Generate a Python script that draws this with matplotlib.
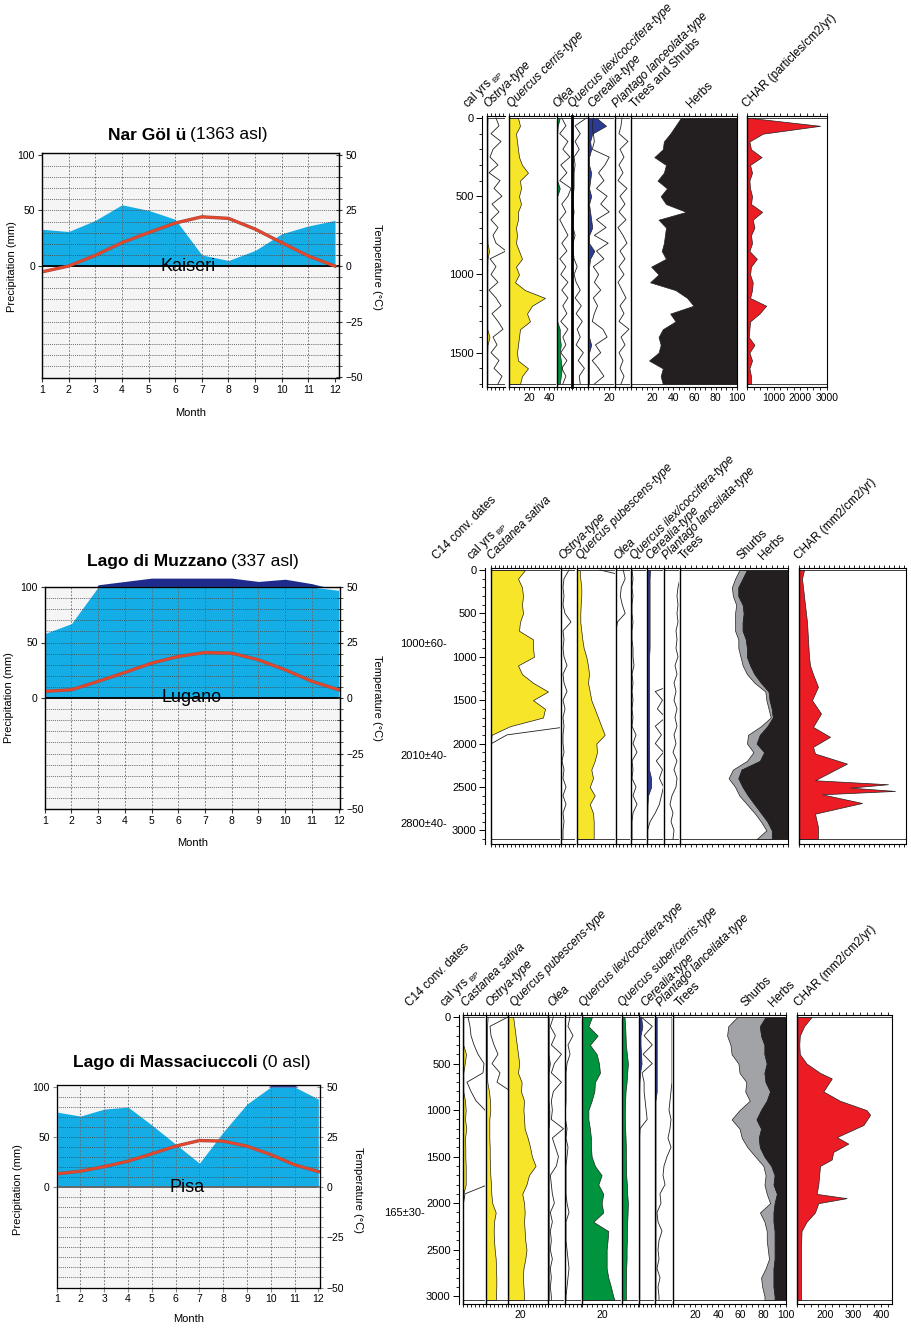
import numpy as np
import matplotlib.pyplot as plt
import matplotlib.patheffects as pe
from matplotlib.ticker import MultipleLocator, FixedLocator

plt.rcParams['font.family'] = ['Liberation Sans', 'DejaVu Sans']

# ---------------- climate diagrams ----------------
months = [1, 2, 3, 4, 5, 6, 7, 8, 9, 10, 11, 12]
kaiseri_prec = [33, 31, 41, 55, 50, 42, 10, 5, 14, 29, 36, 41]
kaiseri_temp = [-2.6, 0, 4.8, 10.5, 15, 19.3, 22.1, 21.4, 16.6, 10.5, 4.5, 0]
lugano_prec = [58, 67, 120, 150, 180, 180, 180, 180, 150, 170, 130, 97]
lugano_temp = [3, 3.7, 7.5, 11.5, 15.7, 18.7, 20.5, 20.2, 17.2, 12.7, 7.5, 3.7]
pisa_prec = [75, 71, 78, 80, 62, 43, 24, 55, 83, 120, 120, 88]
pisa_temp = [6.7, 8, 10.3, 13, 16.7, 20.5, 23.3, 23, 20.5, 16.3, 11.2, 7.8]

# ---------------- Nar Golu pollen (cal yrs BP) ----------------
nar_depth = [0, 50, 100, 150, 200, 250, 300, 350, 400, 450, 500, 550, 600, 650, 700, 750, 800, 850,
             900, 950, 1000, 1050, 1100, 1150, 1200, 1250, 1300, 1350, 1400, 1450, 1500, 1550, 1600, 1650, 1700]
nar_ostrya = [0.5, 0.3, 0.3, 0.3, 0.3, 0.3, 0.3, 0.3, 0.3, 0.3, 0.3, 0.3, 0.3, 0.3, 0.3, 0.3, 0.5, 2,
              0.5, 0.3, 0.3, 0.3, 0.3, 0.3, 0.3, 0.3, 0.3, 0.3, 2.5, 0.5, 0.3, 0.3, 0.3, 0.3, 0.3]
nar_ostrya_x = [9, 12, 4, 14, 6, 3, 11, 2, 13, 7, 15, 5, 12, 4, 11, 6, 9, 19, 3, 9, 4, 11, 2, 9, 14,
                5, 11, 16, 6, 10, 4, 12, 7, 15, 11]
nar_cerris = [9, 11, 7, 8, 9, 10, 13, 19, 11, 12, 10, 12, 9, 9, 7, 8, 7, 10, 13, 7, 10, 6, 16, 36, 23,
              18, 21, 11, 10, 9, 8, 9, 19, 13, 11]
nar_olea = [3, 1, 0.5, 0.5, 0.5, 0.5, 0.5, 0.5, 0.5, 3, 0.5, 0.5, 0.5, 0.5, 0.5, 0.5, 0.5, 0.5, 0.5,
            0.5, 0.5, 0.5, 0.5, 0.5, 0.5, 0.5, 0.5, 3, 3, 4, 3, 4, 5, 4, 3]
nar_olea_x = [5, 9, 3, 11, 6, 13, 4, 10, 3, 14, 11, 5, 9, 3, 7, 11, 5, 10, 3, 9, 4, 11, 5, 11, 6,
              10, 4, 11, 6, 9, 4, 10, 5, 9, 6]
nar_ilex_x = [14, 3, 8, 3, 7, 2, 3, 2, 2, 2, 1, 1, 2, 1, 1, 3, 1, 1, 2, 5, 2, 4, 8, 3, 9,
              4, 10, 5, 8, 4, 11, 6, 12, 7, 8]
nar_cerealia = [8, 17, 4, 2, 3, 1, 1, 3, 2, 1, 3, 1, 2, 3, 4, 1, 1, 6, 2, 1, 1, 1, 1, 1, 1,
                1, 1, 1, 1, 3, 1, 1, 1, 1, 1]
nar_cerealia_x = [5, 4, 5, 6, 4, 20, 16, 10, 15, 8, 18, 12, 20, 8, 17, 6, 19, 8, 15, 5, 10, 6, 12, 5, 9,
                  6, 4, 14, 18, 7, 12, 4, 10, 15, 6]
nar_plantago_x = [7, 6, 4, 13, 5, 9, 4, 8, 3, 12, 5, 10, 4, 11, 3, 8, 12, 5, 10, 4, 9, 3, 7, 11, 5,
                  9, 4, 14, 6, 10, 4, 8, 5, 9, 6]
nar_trees = [47, 42, 37, 31, 30, 22, 33, 31, 25, 34, 28, 33, 52, 26, 33, 32, 31, 29, 33, 19, 26, 18, 42,
             53, 59, 37, 42, 30, 26, 28, 26, 17, 30, 28, 30]
nar_char = [150, 2750, 600, 90, 150, 550, 115, 190, 90, 115, 190, 150, 570, 215, 280, 150, 190, 90, 370,
            150, 115, 215, 190, 115, 720, 470, 115, 90, 65, 280, 90, 190, 90, 150, 150]

# ---------------- Lago di Muzzano pollen ----------------
muz_depth = [0, 100, 200, 300, 400, 500, 600, 700, 800, 900, 1000, 1100, 1200, 1300, 1400, 1500, 1600,
             1700, 1800, 1900, 2000, 2100, 2200, 2300, 2400, 2500, 2600, 2700, 2800, 2900, 3000, 3100]
muz_castanea = [34, 27, 31, 32, 31, 32, 29, 28, 42, 42, 43, 27, 31, 42, 57, 42, 54, 52, 19, 0.5,
                0, 0, 0, 0, 0, 0, 0, 0, 0, 0, 0, 0]
muz_castanea_x = [80, 80, 80, 80, 80, 80, 80, 80, 80, 80, 80, 80, 80, 80, 80, 80, 80, 80, 80, 16,
                  0.5, 0.3, 0.3, 0.3, 0.3, 0.3, 0.3, 0.3, 0.3, 0.3, 0.3, 0.3]
muz_ostrya_x = [8, 3, 2, 3, 2, 4, 10, 2, 3, 2, 3, 6, 2, 3, 6, 2, 4, 2, 3, 2, 2, 3, 1, 3, 2, 5, 2, 5,
                2, 3, 2, 2]
muz_pubescens = [2.7, 3.3, 4.3, 4.3, 3.7, 3.3, 3.3, 4.3, 5.3, 6.7, 9.3, 11, 12, 11, 12.7, 14.3, 17.7,
                 21, 24.3, 27.7, 19.3, 20, 17.7, 14.3, 16, 12.7, 17.7, 12.7, 16, 16.7, 16.7, 16.7]
muz_pubescens_x = [23, 60, 60, 60, 60, 60, 60, 60, 60, 60, 60, 60, 60, 60, 60, 60, 60, 60, 60, 60,
                   60, 60, 60, 60, 60, 60, 60, 60, 60, 60, 60, 60]
muz_olea_x = [8, 10, 6, 5, 7, 10, 2, 0.5, 0.5, 0.5, 0.5, 0.5, 0.5, 0.5, 0.5, 0.5, 0.5, 0.5, 0.5, 0.5,
              0.5, 0.5, 0.5, 0.5, 0.5, 0.5, 0.5, 0.5, 0.5, 0.5, 0.5, 0.5]
muz_ilex_x = [1, 2, 1, 2, 1, 1, 2, 1, 1, 2, 2, 3, 1, 2, 1, 2, 1, 2, 1, 5, 2, 6, 1, 2, 1, 5, 2, 6,
              2, 1, 1, 1]
muz_cerealia = [3, 2.5, 2.5, 2.5, 2.5, 2.5, 2.5, 2.5, 2.5, 2.5, 2, 2, 2, 2, 2, 2, 2, 2, 2, 2, 2, 2,
                2, 2, 4, 4, 1, 0.5, 0.3, 0.3, 0.3, 0.3]
muz_cerealia_x = [30, 30, 30, 30, 30, 30, 30, 30, 30, 30, 30, 30, 30, 30, 8, 15, 10, 18, 8, 14, 8, 16,
                  9, 15, 12, 16, 14, 12, 8, 3, 0.5, 0.5]
muz_plantago_x = [16, 16, 14, 13, 14, 13, 14, 12, 13, 12, 14, 11, 13, 10, 12, 10, 13, 11, 13, 10, 12,
                  9, 13, 10, 13, 12, 8, 6, 9, 7, 10, 9]
muz_trees = [55, 51, 48, 49, 52, 51, 51, 51, 54, 54, 56, 58, 62, 69, 79, 80, 82, 84, 75, 63, 62, 68,
             62, 49, 45, 51, 55, 62, 69, 75, 80, 71]
muz_shrubs = [62, 58, 54, 54, 58, 59, 58, 58, 61, 62, 62, 65, 69, 75, 82, 83, 85, 86, 81, 74, 71, 78,
              74, 57, 54, 58, 63, 69, 75, 81, 85, 85]
muz_char_depth = [0, 100, 200, 400, 600, 800, 1000, 1100, 1200, 1346, 1500, 1654, 1808, 1923, 2038,
                  2115, 2231, 2423, 2469, 2508, 2546, 2585, 2685, 2808, 2962, 3100]
muz_char = [5, 3, 4, 6, 8, 9, 10, 11, 14, 19, 13, 22, 14, 31, 14, 16, 48, 16, 89, 51, 96, 23, 63, 16,
            19, 19]
muz_dates = ['1000±60-', '2010±40-', '2800±40-']

# ---------------- Lago di Massaciuccoli pollen ----------------
mas_depth = [0, 100, 200, 300, 400, 500, 600, 700, 800, 900, 1000, 1100, 1200, 1300, 1400, 1500, 1600,
             1700, 1800, 1900, 2000, 2100, 2200, 2300, 2400, 2500, 2600, 2700, 2800, 2900, 3000, 3040]
mas_castanea = [0.3, 0.3, 0.3, 0.3, 3, 1.7, 0.3, 0.3, 0.3, 2, 2.7, 2, 3.3, 2, 2.3, 2.3, 2.7, 2.7, 2.7,
                0.3, 0, 0, 0, 0, 0, 0, 0, 0, 0, 0, 0, 0]
mas_castanea_x = [5, 7, 8, 11, 15, 21, 20, 4, 8, 13, 22, 25, 25, 25, 25, 25, 25, 25, 25, 2, 0.5,
                  0.3, 0.3, 0.3, 0.3, 0.3, 0.3, 0.3, 0.3, 0.3, 0.3, 0.3]
mas_ostrya = [1.7, 1, 1, 1, 1, 1, 1, 1.3, 3, 4, 4.3, 3.3, 3.3, 3.3, 3.7, 3.7, 4, 4.3, 5, 5.3, 6.3,
              9.7, 8, 7.7, 8, 8.7, 9.7, 10, 10.3, 10.3, 10, 10]
mas_ostrya_x = [22, 4, 5, 8, 12, 6, 14, 11, 25, 25, 25, 25, 25, 25, 25, 25, 25, 25, 25, 25, 25, 25,
                25, 25, 25, 25, 25, 25, 25, 25, 25, 25]
mas_pubescens = [8, 10, 12, 14, 16, 18, 16, 22, 21, 26, 25, 26, 27, 32, 36, 39, 45, 34, 30, 23, 26,
                 27, 26, 27, 28, 30, 28, 25, 24, 25, 26, 26]
mas_olea = [0.3, 0.3, 0.3, 0.3, 0.3, 1.5, 0.3, 0.3, 0.3, 0.3, 1, 1, 0.3, 0.3, 0.3, 0.3, 0.3, 0.3,
            0.3, 0.3, 0.3, 0.3, 0.3, 0.3, 0.3, 0.3, 0.3, 0.3, 0.3, 0.3, 0.3, 0.3]
mas_olea_x = [5, 2, 7, 3, 13, 6, 3, 13, 5, 3, 4, 3, 15, 4, 7, 10, 8, 2, 3, 4, 6, 2, 4, 2, 3, 2, 4,
              2, 3, 2, 3, 3]
mas_other_x = [5, 3, 8, 3, 5, 2, 1, 1, 1, 1, 0.5, 0.5, 2, 1, 3, 2, 1, 1, 1, 1, 2, 4, 1, 1, 1, 2, 3,
               4, 3, 2, 1, 1]
mas_ilex = [10, 6.5, 15.5, 8, 14.6, 16.8, 17.8, 12.9, 12.3, 9.7, 6.5, 6.5, 8, 9, 9, 9.7, 12.9, 19.4,
            16.2, 21, 19.4, 21, 11.3, 25.9, 25.2, 24.3, 24.3, 24.3, 25.9, 28.5, 30.7, 32]
mas_suber = [2.7, 3.3, 3.7, 4, 5, 6, 5.3, 4.7, 3.7, 3.3, 3, 3, 3.3, 3.7, 4, 4, 4.3, 4.3, 5, 5.3, 6,
             5.7, 5.3, 5, 5, 4.7, 4.7, 4.3, 4.3, 4, 4, 4]
mas_cerealia = [2, 3.3, 1.5, 1.5, 2, 2.5, 1, 0.5, 0.3, 0.3, 0.3, 0.3, 0.3, 0.3, 0.3, 0.3, 0.3, 0.3,
                0.3, 0.3, 0.3, 0.3, 0.3, 0.3, 0.3, 0.3, 0.3, 0.3, 0.3, 0.3, 0.3, 0.3]
mas_cerealia_x = [2, 13, 5, 13, 4, 13, 3, 5, 5, 6, 7, 8, 1, 0.5, 0.3, 0.3, 0.3, 0.3, 0.3, 0.3, 0.3,
                  0.3, 0.3, 0.3, 0.3, 0.3, 0.3, 0.3, 0.3, 0.3, 0.3, 0.3]
mas_plantago = [1.7, 1.7, 1.7, 1.7, 1.7, 1.7, 1.7, 1.7, 1.7, 0.5, 0.5, 0.5, 0.5, 0.5, 0.5, 0.5, 0.5,
                0.5, 0.5, 0.5, 0.5, 0.5, 0.5, 0.5, 0.5, 0.5, 0.5, 0.5, 0.5, 0.5, 0.5, 0.5]
mas_plantago_x = [17, 17, 17, 17, 17, 17, 17, 17, 16, 15, 14, 16, 15, 13, 16, 12, 9, 8, 10, 5, 6, 2,
                  3, 7, 4, 3, 4, 2, 5, 3, 4, 4]
mas_trees = [57, 49, 48, 51, 52, 58, 59, 65, 64, 68, 59, 52, 59, 61, 66, 73, 80, 82, 81, 83, 86, 77,
             81, 83, 83, 84, 85, 82, 78, 79, 81, 81]
mas_shrubs = [82, 77, 78, 81, 81, 83, 81, 82, 86, 83, 78, 74, 78, 76, 77, 81, 87, 90, 89, 92, 90, 89,
              89, 90, 90, 90, 90, 89, 89, 89, 90, 90]
mas_char_depth = [0, 100, 200, 300, 400, 500, 600, 660, 800, 900, 1000, 1050, 1160, 1290, 1360, 1450,
                  1530, 1600, 1800, 1900, 1946, 2000, 2100, 2200, 2300, 2500, 3040]
mas_char = [151, 124, 109, 107, 109, 133, 181, 223, 193, 252, 347, 360, 336, 241, 282, 228, 223, 181,
            175, 169, 276, 175, 163, 133, 115, 113, 113]
mas_dates = ['165±30-']

YELLOW, GREEN, BLUE = '#f7e52a', '#00943f', '#2c3b94'
BLACK, GREY, RED = '#231f20', '#a2a3a6', '#ec1c24'

W, H = 911, 1328
fig = plt.figure(figsize=(W / 100, H / 100), dpi=100)


def box(x0, y0, x1, y1):
    return fig.add_axes([x0 / W, 1 - y1 / H, (x1 - x0) / W, (y1 - y0) / H])


def ftext(x, y, s, **kw):
    return fig.text(x / W, 1 - y / H, s, **kw)


def climate(pos, xmax, ylim, prec, temp, bold, plain, split, title_y,
            station, month_y, plab_x, tlab_x, lab_y, frame='#333'):
    x0, y0, x1, y1 = pos
    ax = box(x0, y0, x1, y1)
    ax.set_facecolor('#f5f5f5')
    ax.set_xlim(1, xmax)
    ax.set_ylim(ylim)
    p = np.array(prec, float)
    shown = np.where(p > 100, 100 + (p - 100) / 10, p)
    ax.fill_between(months, 0, np.minimum(shown, 100), color='#14ade6', lw=0, zorder=1)
    ax.fill_between(months, 100, shown, where=shown >= 100, interpolate=True,
                    color='#1e2b8c', lw=0, zorder=1, clip_on=False)
    for g in range(-90, 100, 10):
        ax.axhline(g, color='#444', lw=0.6, ls=(0, (1, 1.3)), zorder=2)
    for m in months[1:-1]:
        ax.axvline(m, color='#666', lw=0.6, ls=(0, (2, 2)), zorder=2)
    ax.axhline(0, color='k' if frame == '#333' else '#666', lw=1.3, zorder=3)
    ax.plot(months, np.array(temp) * 2, color='#e8462b', lw=1.6, zorder=4,
            path_effects=[pe.Stroke(linewidth=2.4, foreground='#9a5048'), pe.Normal()])
    ax.text(6.5, 0, station, ha='center', va='center', fontsize=13, zorder=5)
    ax.set_xticks(months)
    ax.set_yticks([0, 50, 100])
    ax.tick_params(labelsize=7.5, length=3, pad=2, color=frame)
    for s in ax.spines.values():
        s.set_color(frame)
        s.set_linewidth(1.0)
    tx = ax.twinx()
    tx.set_ylim(ylim[0] / 2, ylim[1] / 2)
    tx.set_yticks([-50, -25, 0, 25, 50])
    tx.yaxis.set_minor_locator(MultipleLocator(5))
    tx.tick_params(which='both', direction='inout', labelsize=7.5, pad=2, color=frame)
    tx.tick_params(which='major', length=5)
    tx.tick_params(which='minor', length=4)
    tx.set_yticklabels(['−50', '−25', '0', '25', '50'])
    ftext(split - 2, title_y, bold, ha='right', va='center', fontsize=12.5, weight='bold')
    ftext(split + 2, title_y, plain, ha='left', va='center', fontsize=12.5)
    ftext((x0 + x1) / 2, month_y, 'Month', ha='center', va='center', fontsize=8)
    ftext(plab_x, lab_y, 'Precipitation (mm)', rotation=90, ha='center', va='center', fontsize=8)
    ftext(tlab_x, lab_y, 'Temperature (°C)', rotation=270, ha='center', va='center', fontsize=8)


def rowgeom(top, bot, d0px, dnpx, dn):
    s = (dnpx - d0px) / dn
    return dict(top=top, bot=bot, dn=dn, ylim=(dn + (bot - dnpx) / s, -(d0px - top) / s))


def depth_axis(row, x, step):
    ax = box(x, row['top'], x + 1, row['bot'])
    ax.set_ylim(row['ylim'])
    for s in ('top', 'bottom', 'right'):
        ax.spines[s].set_visible(False)
    ax.spines['left'].set_linewidth(0.8)
    ax.set_xticks([])
    ax.yaxis.set_major_locator(FixedLocator(list(range(0, row['dn'] + 1, step))))
    ax.yaxis.set_minor_locator(MultipleLocator(100))
    ax.tick_params(axis='y', which='major', length=4, width=0.7, labelsize=8, pad=2)
    ax.tick_params(axis='y', which='minor', length=2.5, width=0.6)
    ax.patch.set_alpha(0)


def panel(row, x0, x1, xlim, minor, labels=(), right=False, lw_left=1.0):
    ax = box(x0, row['top'], x1, row['bot'])
    ax.set_xlim(xlim if isinstance(xlim, tuple) else (0, xlim))
    ax.set_ylim(row['ylim'])
    ax.patch.set_alpha(0)
    ax.spines['right'].set_visible(right)
    ax.spines['left'].set_linewidth(lw_left)
    for s in ('top', 'bottom', 'right'):
        ax.spines[s].set_linewidth(0.8)
    ax.set_yticks([])
    ax.xaxis.set_major_locator(FixedLocator(list(labels)))
    ax.xaxis.set_minor_locator(MultipleLocator(minor))
    ax.tick_params(axis='x', which='both', top=True, bottom=True, direction='out',
                   length=2.5, width=0.6, labelsize=7.5, pad=1.5)
    ax.axhline(0, color=BLACK, lw=0.6)
    ax.axhline(row['dn'], color=BLACK, lw=0.6)
    return ax


def fill(ax, depth, vals, color, base=0):
    ax.fill_betweenx(depth, base, vals, facecolor=color, edgecolor=BLACK, lw=0.5)


def line(ax, depth, vals):
    ax.plot(vals, depth, color=BLACK, lw=0.6)


def headers(y, items, size=8.5):
    for x, s, it in items:
        ftext(x, y, s, rotation=45, rotation_mode='anchor', ha='left', va='baseline',
              fontsize=size, style='italic' if it else 'normal')


BP = r'cal yrs $\mathregular{_{BP}}$'

# ================= row 1 : Nar Golu =================
climate((42, 153, 339, 378), 12.15, (-100.5, 101.5), kaiseri_prec, kaiseri_temp,
        'Nar Göl ü', '(1363 asl)', 188, 135, 'Kaiseri', 413, 12, 377, 267)

r1 = rowgeom(116, 387, 118, 384, 1700)
depth_axis(r1, 482, 500)
a = panel(r1, 487, 505, 18, 4)
fill(a, nar_depth, nar_ostrya, YELLOW)
line(a, nar_depth, nar_ostrya_x)
a = panel(r1, 509, 556, 47, 5, labels=(20, 40))
fill(a, nar_depth, nar_cerris, YELLOW)
a = panel(r1, 556.7, 571, 14, 4)
fill(a, nar_depth, nar_olea, GREEN)
line(a, nar_depth, nar_olea_x)
a = panel(r1, 572, 587.5, 15, 4, lw_left=2)
line(a, nar_depth, nar_ilex_x)
a = panel(r1, 588, 614, 24.5, 5, labels=(20,))
fill(a, nar_depth, nar_cerealia, BLUE)
line(a, nar_depth, nar_cerealia_x)
a = panel(r1, 615, 630, 15, 4)
line(a, nar_depth, nar_plantago_x)
a = panel(r1, 631, 737, 100, 5, labels=(20, 40, 60, 80, 100), right=True)
fill(a, nar_depth, nar_trees, BLACK, base=100)
a = panel(r1, 747, 827, 3010, 250, labels=(1000, 2000, 3000), right=True)
fill(a, nar_depth, nar_char, RED)

headers(108, [(467, BP, False), (488, 'Ostrya-type', True), (512, 'Quercus cerris-type', True),
              (557, 'Olea', True), (573, 'Quercus ilex/coccifera-type', True),
              (592, 'Cerealia-type', True), (617, 'Plantago lanceolata-type', True),
              (635, 'Trees and Shrubs', False), (691, 'Herbs', False),
              (747, 'CHAR (particles/cm2/yr)', False)])

# ================= row 2 : Lago di Muzzano =================
climate((44.7, 587, 340, 809), 12.05, (-100, 100), lugano_prec, lugano_temp,
        'Lago di Muzzano', '(337 asl)', 229, 562, 'Lugano', 843, 9, 377, 698)

r2 = rowgeom(568, 844, 570, 839, 3100)
depth_axis(r2, 485, 500)
a = panel(r2, 491, 560, 69, 4)
fill(a, muz_depth, muz_castanea, YELLOW)
line(a, muz_depth, muz_castanea_x)
a = panel(r2, 561, 575, 14, 4)
line(a, muz_depth, muz_ostrya_x)
a = panel(r2, 577, 615, 38, 4)
fill(a, muz_depth, muz_pubescens, YELLOW)
line(a, muz_depth, muz_pubescens_x)
a = panel(r2, 615.5, 630, 15, 4)
line(a, muz_depth, muz_olea_x)
a = panel(r2, 631, 646, 15, 4)
line(a, muz_depth, muz_ilex_x)
a = panel(r2, 647, 662.5, 15, 4)
fill(a, muz_depth, muz_cerealia, BLUE)
line(a, muz_depth, muz_cerealia_x)
a = panel(r2, 664, 679, 15, 4)
line(a, muz_depth, muz_plantago_x)
a = panel(r2, 680, 788, 100, 5, right=True)
fill(a, muz_depth, muz_trees, GREY, base=muz_shrubs)
fill(a, muz_depth, muz_shrubs, BLACK, base=100)
a = panel(r2, 799, 906, 107, 5, right=True)
fill(a, muz_char_depth, muz_char, RED)

for y, s in zip([644, 756, 824], muz_dates):
    ftext(447, y, s, ha='right', va='center', fontsize=8)
headers(560, [(437, 'C14 conv. dates', False), (471, BP, False), (492, 'Castanea sativa', True),
              (563.5, 'Ostrya-type', True), (580.7, 'Quercus pubescens-type', True),
              (618, 'Olea', True), (635, 'Quercus ilex/coccifera-type', True),
              (650.6, 'Cerealia-type', True), (666.8, 'Plantago lanceilata-type', True),
              (683.4, 'Trees', False), (741.2, 'Shurbs', False), (762.6, 'Herbs', False),
              (798.7, 'CHAR (mm2/cm2/yr)', False)])

# ================= row 3 : Lago di Massaciuccoli =================
climate((56.7, 1085, 320, 1287.5), 12.07, (-100, 102), pisa_prec, pisa_temp,
        'Lago di Massaciuccoli', '(0 asl)', 260, 1063, 'Pisa', 1319, 18, 358, 1190, frame='#888')

r3 = rowgeom(1015, 1304, 1017, 1300, 3040)
depth_axis(r3, 459, 500)
a = panel(r3, 463, 485, 22, 4)
fill(a, mas_depth, mas_castanea, YELLOW)
line(a, mas_depth, mas_castanea_x)
a = panel(r3, 486, 508, 22, 4)
fill(a, mas_depth, mas_ostrya, YELLOW)
line(a, mas_depth, mas_ostrya_x)
a = panel(r3, 508.3, 547.7, 65, 5, labels=(20,))
fill(a, mas_depth, mas_pubescens, YELLOW)
a = panel(r3, 548.3, 563.5, 15, 4)
fill(a, mas_depth, mas_olea, GREEN)
line(a, mas_depth, mas_olea_x)
a = panel(r3, 565, 581, 16, 4)
line(a, mas_depth, mas_other_x)
a = panel(r3, 581.7, 620.7, 38, 5, labels=(20,))
fill(a, mas_depth, mas_ilex, GREEN)
a = panel(r3, 621.7, 638.3, 16, 4)
fill(a, mas_depth, mas_suber, GREEN)
a = panel(r3, 639, 654.3, 15, 4)
fill(a, mas_depth, mas_cerealia, BLUE)
line(a, mas_depth, mas_cerealia_x)
a = panel(r3, 655, 672, 17, 4)
fill(a, mas_depth, mas_plantago, BLUE)
line(a, mas_depth, mas_plantago_x)
a = panel(r3, 672.7, 786, 100, 5, labels=(20, 40, 60, 80, 100), right=True)
fill(a, mas_depth, mas_trees, GREY, base=mas_shrubs)
fill(a, mas_depth, mas_shrubs, BLACK, base=100)
a = panel(r3, 797.3, 892, (100, 438), 25, labels=(200, 300, 400), right=True)
fill(a, mas_char_depth, mas_char, RED, base=100)

for y, s in zip([1213], mas_dates):
    ftext(425, y, s, ha='right', va='center', fontsize=8)
headers(1007, [(409.6, 'C14 conv. dates', False), (444, BP, False), (466.4, 'Castanea sativa', True),
               (490.5, 'Ostrya-type', True), (514.6, 'Quercus pubescens-type', True),
               (552.5, 'Olea', True), (583.5, 'Quercus ilex/coccifera-type', True),
               (623, 'Quercus suber/cerris-type', True), (645.5, 'Cerealia-type', True),
               (661, 'Plantago lanceilata-type', True), (680, 'Trees', False),
               (745.3, 'Shurbs', False), (773, 'Herbs', False),
               (798.7, 'CHAR (mm2/cm2/yr)', False)])

fig.savefig('out.png', dpi=100)
